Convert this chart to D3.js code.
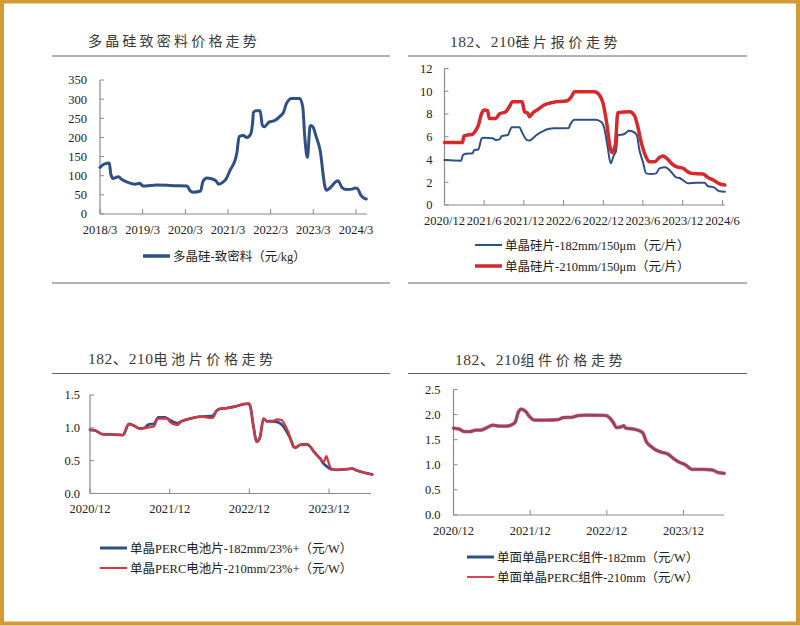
<!DOCTYPE html>
<html><head><meta charset="utf-8">
<script src="https://cdn.jsdelivr.net/npm/d3@7"></script>
<style>
html,body{margin:0;padding:0;background:#fff;}
svg{display:block;}
</style></head>
<body>
<svg id="chart" width="800" height="626"></svg>
<script>
// ---------------- DATA ----------------
const polyTitle = "多晶硅致密料价格走势";
const polyLegend = ["多晶硅-致密料（元/kg）"];
const polyXTicks = ["2018/3","2019/3","2020/3","2021/3","2022/3","2023/3","2024/3"];
const polyYTicks = [0,50,100,150,200,250,300,350];
const polysilicon = [
 ["2018-03-01",122],["2018-04-10",131],["2018-05-20",133],["2018-06-01",105],["2018-06-20",93],
 ["2018-08-05",97],["2018-09-05",90],["2018-10-15",84],["2018-12-25",78],["2019-02-05",80],
 ["2019-03-05",73],["2019-07-01",76],["2019-11-20",74],["2020-03-15",73],["2020-04-10",61],
 ["2020-05-05",57],["2020-07-10",60],["2020-07-28",84],["2020-09-01",94],["2020-10-10",92],
 ["2020-11-20",86],["2020-12-10",78],["2021-01-20",84],["2021-02-12",91],["2021-03-20",115],
 ["2021-05-01",141],["2021-05-15",158],["2021-06-05",203],["2021-07-10",205],["2021-08-10",200],
 ["2021-09-12",209],["2021-09-28",240],["2021-10-05",265],["2021-10-25",270],["2021-12-01",270],
 ["2021-12-20",232],["2022-01-05",228],["2022-02-15",240],["2022-04-10",245],["2022-05-20",255],
 ["2022-06-20",266],["2022-07-15",289],["2022-08-28",302],["2022-11-05",302],["2022-12-01",280],
 ["2022-12-18",202],["2023-01-10",148],["2023-02-01",228],["2023-02-10",231],["2023-03-01",226],
 ["2023-03-28",200],["2023-04-28",168],["2023-06-10",70],["2023-06-22",62],["2023-07-22",68],
 ["2023-09-10",84],["2023-09-28",87],["2023-11-03",69],["2023-12-10",64],["2024-01-30",65],
 ["2024-02-20",68],["2024-03-12",67],["2024-04-10",50],["2024-05-10",41],["2024-05-28",39]
];

const waferTitle = ["182、210","硅片报价走势"];
const waferLegend = ["单晶硅片-182mm/150μm（元/片）","单晶硅片-210mm/150μm（元/片）"];
const waferXTicks = ["2020/12","2021/6","2021/12","2022/6","2022/12","2023/6","2023/12","2024/6"];
const waferYTicks = [0,2,4,6,8,10,12];
const wafer182 = [
 ["2020-12-01",3.95],["2021-02-15",3.9],["2021-02-24",4.4],["2021-03-10",4.5],["2021-04-10",4.55],
 ["2021-04-15",4.8],["2021-05-06",4.9],["2021-05-21",5.86],["2021-06-02",5.92],["2021-07-10",5.86],
 ["2021-07-25",5.72],["2021-08-10",5.77],["2021-08-22",6.06],["2021-09-18",6.15],["2021-10-06",6.83],
 ["2021-11-11",6.83],["2021-11-23",6.37],["2021-12-14",5.72],["2021-12-26",5.66],["2022-01-12",5.87],
 ["2022-01-28",6.15],["2022-02-27",6.5],["2022-03-28",6.71],["2022-04-18",6.75],["2022-05-28",6.75],
 ["2022-06-25",6.77],["2022-07-01",7.03],["2022-07-22",7.5],["2022-10-28",7.5],["2022-11-22",7.3],
 ["2022-12-06",6.7],["2022-12-21",5.1],["2023-01-04",3.66],["2023-01-19",4.4],["2023-01-28",4.7],
 ["2023-02-06",6.15],["2023-03-01",6.2],["2023-03-16",6.35],["2023-03-28",6.53],["2023-04-18",6.44],
 ["2023-05-04",6.15],["2023-05-16",4.83],["2023-06-01",3.8],["2023-06-16",2.78],["2023-07-10",2.73],
 ["2023-08-01",2.78],["2023-08-16",3.22],["2023-09-12",3.31],["2023-10-01",3.08],["2023-11-01",2.43],
 ["2023-11-19",2.35],["2023-12-07",2.11],["2023-12-25",1.92],["2024-02-03",1.96],["2024-03-10",1.96],
 ["2024-03-25",1.67],["2024-04-25",1.52],["2024-05-19",1.2],["2024-06-12",1.17]
];
const wafer210 = [
 ["2020-12-01",5.5],["2021-02-22",5.5],["2021-02-28",6.06],["2021-03-16",6.15],["2021-04-10",6.24],
 ["2021-04-25",6.6],["2021-05-06",7.03],["2021-05-21",8.06],["2021-06-02",8.35],["2021-06-17",8.3],
 ["2021-06-25",7.6],["2021-07-25",7.6],["2021-08-10",8.0],["2021-09-09",8.2],["2021-09-25",8.64],
 ["2021-10-10",9.08],["2021-11-23",9.08],["2021-12-04",8.2],["2021-12-19",8.06],["2021-12-26",7.76],
 ["2022-01-12",8.11],["2022-02-03",8.4],["2022-03-04",8.79],["2022-04-13",9.02],["2022-06-19",9.17],
 ["2022-07-07",9.52],["2022-07-22",9.96],["2022-10-22",9.96],["2022-11-13",9.67],["2022-11-28",9.08],
 ["2022-12-16",7.3],["2023-01-01",5.1],["2023-01-10",4.6],["2023-01-25",5.26],["2023-02-06",8.11],
 ["2023-04-01",8.2],["2023-04-22",7.9],["2023-05-07",7.03],["2023-05-22",5.7],["2023-06-16",4.2],
 ["2023-07-01",3.8],["2023-07-25",3.8],["2023-08-16",4.18],["2023-09-01",4.3],["2023-09-19",4.1],
 ["2023-10-10",3.66],["2023-11-01",3.37],["2023-12-04",3.22],["2023-12-19",2.99],["2024-01-10",2.78],
 ["2024-03-04",2.73],["2024-03-25",2.43],["2024-04-25",2.14],["2024-05-19",1.85],["2024-06-12",1.76]
];

const cellTitle = ["182、210","电池片价格走势"];
const cellLegend = ["单晶PERC电池片-182mm/23%+（元/W）","单晶PERC电池片-210mm/23%+（元/W）"];
const cellXTicks = ["2020/12","2021/12","2022/12","2023/12"];
const cellYTicks = [0,0.5,1.0,1.5];
const cell182 = [
 ["2020-12-01",0.97],["2020-12-24",0.96],["2021-01-25",0.905],["2021-03-01",0.9],["2021-05-01",0.89],
 ["2021-05-28",1.06],["2021-06-16",1.04],["2021-07-16",0.99],["2021-08-10",1.0],["2021-08-25",1.05],
 ["2021-09-20",1.06],["2021-10-10",1.16],["2021-11-10",1.16],["2021-12-01",1.12],["2022-01-04",1.07],
 ["2022-01-25",1.1],["2022-03-04",1.14],["2022-04-19",1.17],["2022-06-16",1.18],["2022-07-04",1.26],
 ["2022-07-19",1.29],["2022-08-19",1.3],["2022-10-04",1.33],["2022-11-04",1.36],["2022-11-28",1.37],
 ["2022-12-06",1.32],["2022-12-19",1.04],["2023-01-04",0.79],["2023-01-19",0.86],["2023-02-04",1.14],
 ["2023-02-19",1.1],["2023-03-19",1.1],["2023-04-06",1.09],["2023-04-28",1.05],["2023-05-22",0.94],
 ["2023-06-13",0.79],["2023-06-22",0.71],["2023-07-01",0.70],["2023-07-22",0.74],["2023-08-22",0.75],
 ["2023-09-07",0.71],["2023-09-22",0.64],["2023-10-22",0.53],["2023-11-07",0.45],["2023-11-22",0.41],
 ["2023-12-10",0.37],["2024-01-07",0.36],["2024-02-22",0.37],["2024-03-16",0.38],["2024-04-07",0.35],
 ["2024-05-07",0.32],["2024-06-16",0.29]
];
const cell210 = [
 ["2020-12-01",0.97],["2020-12-24",0.96],["2021-01-25",0.905],["2021-03-01",0.9],["2021-05-01",0.89],
 ["2021-05-28",1.06],["2021-06-16",1.04],["2021-07-16",0.99],["2021-08-10",1.0],["2021-09-20",1.02],
 ["2021-10-06",1.14],["2021-11-19",1.14],["2021-12-02",1.09],["2022-01-04",1.04],["2022-01-25",1.1],
 ["2022-03-04",1.14],["2022-04-19",1.17],["2022-06-16",1.15],["2022-07-04",1.26],["2022-07-19",1.29],
 ["2022-08-19",1.3],["2022-10-04",1.33],["2022-11-04",1.36],["2022-11-28",1.37],["2022-12-06",1.32],
 ["2022-12-19",1.04],["2023-01-04",0.79],["2023-01-19",0.86],["2023-02-04",1.14],["2023-02-19",1.1],
 ["2023-03-19",1.1],["2023-04-06",1.13],["2023-04-28",1.12],["2023-05-07",1.08],["2023-05-28",0.94],
 ["2023-06-22",0.71],["2023-07-01",0.70],["2023-07-22",0.74],["2023-08-22",0.75],["2023-09-07",0.71],
 ["2023-09-22",0.64],["2023-10-22",0.53],["2023-11-07",0.48],["2023-11-19",0.57],["2023-11-28",0.48],
 ["2023-12-13",0.37],["2024-01-07",0.36],["2024-02-22",0.37],["2024-03-16",0.38],["2024-04-07",0.35],
 ["2024-05-07",0.32],["2024-06-16",0.29]
];

const moduleTitle = ["182、210","组件价格走势"];
const moduleLegend = ["单面单晶PERC组件-182mm（元/W）","单面单晶PERC组件-210mm（元/W）"];
const moduleXTicks = ["2020/12","2021/12","2022/12","2023/12"];
const moduleYTicks = [0,0.5,1.0,1.5,2.0,2.5];
const module182 = [
 ["2020-12-01",1.73],["2020-12-29",1.71],["2021-01-22",1.66],["2021-02-15",1.66],["2021-03-17",1.69],
 ["2021-04-10",1.69],["2021-05-04",1.73],["2021-06-07",1.79],["2021-07-07",1.77],["2021-08-10",1.77],
 ["2021-09-10",1.81],["2021-09-22",1.86],["2021-10-04",2.03],["2021-10-19",2.11],["2021-11-10",2.06],
 ["2021-11-28",1.96],["2021-12-22",1.89],["2022-02-15",1.89],["2022-04-13",1.9],["2022-05-07",1.94],
 ["2022-06-22",1.95],["2022-07-16",1.98],["2022-08-25",1.99],["2022-11-22",1.985],["2022-12-16",1.93],
 ["2023-01-01",1.84],["2023-01-16",1.74],["2023-02-10",1.76],["2023-02-19",1.78],["2023-03-01",1.73],
 ["2023-04-07",1.71],["2023-05-04",1.68],["2023-05-22",1.63],["2023-06-07",1.46],["2023-07-01",1.36],
 ["2023-07-25",1.29],["2023-08-19",1.25],["2023-09-19",1.21],["2023-10-13",1.13],["2023-11-07",1.06],
 ["2023-12-10",1.0],["2024-01-10",0.91],["2024-03-04",0.91],["2024-04-13",0.9],["2024-05-16",0.85],
 ["2024-06-12",0.83]
];
const module210 = [
 ["2020-12-01",1.73],["2020-12-29",1.71],["2021-01-22",1.66],["2021-02-15",1.66],["2021-03-17",1.69],
 ["2021-04-10",1.69],["2021-05-04",1.73],["2021-06-07",1.79],["2021-07-07",1.77],["2021-08-10",1.77],
 ["2021-09-10",1.81],["2021-09-22",1.86],["2021-10-04",2.03],["2021-10-19",2.11],["2021-11-10",2.06],
 ["2021-11-28",1.96],["2021-12-22",1.89],["2022-02-15",1.89],["2022-04-13",1.9],["2022-05-07",1.94],
 ["2022-06-22",1.95],["2022-07-16",1.98],["2022-08-25",1.99],["2022-11-22",1.985],["2022-12-16",1.93],
 ["2023-01-01",1.84],["2023-01-16",1.74],["2023-02-10",1.76],["2023-02-19",1.78],["2023-03-01",1.73],
 ["2023-04-07",1.71],["2023-05-04",1.68],["2023-05-22",1.63],["2023-06-07",1.46],["2023-07-01",1.36],
 ["2023-07-25",1.29],["2023-08-19",1.25],["2023-09-19",1.21],["2023-10-13",1.13],["2023-11-07",1.06],
 ["2023-12-10",1.0],["2024-01-10",0.91],["2024-03-04",0.91],["2024-04-13",0.9],["2024-05-16",0.84],
 ["2024-06-12",0.83]
];

// ---------------- DRAWING ----------------
const FONT = '"Liberation Serif","Noto Sans CJK SC",serif';
const BLUE = "#2f5087", RED = "#d6282d";
const svg = d3.select("#chart");
const parse = d3.timeParse("%Y-%m-%d");
const tickDate = s => { const [y,m] = s.split("/").map(Number); return new Date(y, m-1, 1); };
const fmtY = (ticks) => { const dec = ticks.some(t => !Number.isInteger(t)); return t => dec ? t.toFixed(1) : String(t); };

svg.append("rect").attr("width",800).attr("height",626).attr("fill","#fff");

function drawPanel(c) {
  const g = svg.append("g");
  const x = d3.scaleTime().domain([tickDate(c.xTicks[0]), tickDate(c.xTicks[c.refIdx])]).range([c.x0, c.xRef]);
  const y = d3.scaleLinear().domain([0, c.yTicks[c.yTicks.length-1]]).range([c.y0, c.y1]);

  // title
  const t = g.append("text").attr("x", c.titleX).attr("y", c.titleY)
    .attr("font-family", FONT).attr("fill", "#3a3a3a");
  if (Array.isArray(c.title)) {
    t.append("tspan").attr("font-size", 15.5).attr("letter-spacing", 0.5).text(c.title[0]);
    t.append("tspan").attr("font-size", 14).attr("letter-spacing", 3.6).text(c.title[1]);
  } else {
    t.attr("font-size", 14).attr("letter-spacing", 3.2).text(c.title);
  }
  // rules
  g.append("line").attr("x1", c.ruleX0).attr("x2", c.ruleX1).attr("y1", c.ruleY).attr("y2", c.ruleY)
    .attr("stroke", "#666").attr("stroke-width", 1);
  if (c.bottomRuleY) g.append("line").attr("x1", c.ruleX0).attr("x2", c.ruleX1)
    .attr("y1", c.bottomRuleY).attr("y2", c.bottomRuleY).attr("stroke", "#666").attr("stroke-width", 1);

  // axes
  const axCol = "#8a8a8a";
  g.append("line").attr("x1", c.x0).attr("x2", c.x0).attr("y1", y(0)).attr("y2", y.range()[1])
    .attr("stroke", axCol).attr("stroke-width", 1.2);
  g.append("line").attr("x1", c.x0).attr("x2", c.xEnd).attr("y1", y(0)).attr("y2", y(0))
    .attr("stroke", axCol).attr("stroke-width", 1.2);
  const f = fmtY(c.yTicks);
  c.yTicks.forEach(v => {
    g.append("line").attr("x1", c.x0).attr("x2", c.x0 + 4).attr("y1", y(v)).attr("y2", y(v))
      .attr("stroke", axCol).attr("stroke-width", 1);
    g.append("text").attr("x", c.x0 - c.yLabGap).attr("y", y(v)).attr("dy", "0.35em")
      .attr("text-anchor", "end").attr("font-family", FONT).attr("font-size", 12.5).attr("fill", "#222").text(f(v));
  });
  c.xTicks.forEach(s => {
    const xx = x(tickDate(s));
    g.append("line").attr("x1", xx).attr("x2", xx).attr("y1", y(0)).attr("y2", y(0) - 5)
      .attr("stroke", axCol).attr("stroke-width", 1);
    g.append("text").attr("x", xx).attr("y", y(0) + 19.5).attr("text-anchor", "middle")
      .attr("font-family", FONT).attr("font-size", 12.5).attr("fill", "#222").text(s);
  });

  // series
  const line = d3.line().x(d => x(parse(d[0]))).y(d => y(d[1])).curve(d3.curveMonotoneX);
  c.series.forEach(s => {
    g.append("path").datum(s.data).attr("d", line).attr("fill", "none")
      .attr("stroke", s.color).attr("stroke-width", s.width).attr("stroke-opacity", s.opacity || 1)
      .attr("stroke-linejoin", "round").attr("stroke-linecap", "round");
  });

  // legend
  c.legend.forEach((lab, i) => {
    const ly = c.legY + i * c.legStep;
    const s = c.legStyle[i];
    g.append("line").attr("x1", c.legX).attr("x2", c.legX + 27).attr("y1", ly).attr("y2", ly)
      .attr("stroke", s.color).attr("stroke-width", s.width);
    g.append("text").attr("x", c.legX + 30).attr("y", ly).attr("dy", "0.36em")
      .attr("font-family", FONT).attr("font-size", 12.5)
      .attr("fill", "#222").text(lab);
  });
}

drawPanel({
  title: polyTitle, titleX: 88, titleY: 46, ruleX0: 52, ruleX1: 390, ruleY: 56, bottomRuleY: 283,
  xTicks: polyXTicks, refIdx: 6, x0: 100, xRef: 356, xEnd: 367,
  yTicks: polyYTicks, y0: 214, y1: 80, yLabGap: 13,
  series: [{data: polysilicon, color: BLUE, width: 3}],
  legend: polyLegend, legStyle: [{color: BLUE, width: 3.5}], legX: 143, legY: 256, legStep: 0
});
drawPanel({
  title: waferTitle, titleX: 450, titleY: 47, ruleX0: 408, ruleX1: 747, ruleY: 56, bottomRuleY: 283,
  xTicks: waferXTicks, refIdx: 7, x0: 444.5, xRef: 722.5, xEnd: 725,
  yTicks: waferYTicks, y0: 205, y1: 68.5, yLabGap: 12,
  series: [{data: wafer182, color: BLUE, width: 2}, {data: wafer210, color: RED, width: 3.5}],
  legend: waferLegend, legStyle: [{color: BLUE, width: 2}, {color: RED, width: 3.5}], legX: 475, legY: 245, legStep: 21
});
drawPanel({
  title: cellTitle, titleX: 88, titleY: 364, ruleX0: 52, ruleX1: 390, ruleY: 373.5, bottomRuleY: null,
  xTicks: cellXTicks, refIdx: 3, x0: 90, xRef: 329, xEnd: 371,
  yTicks: cellYTicks, y0: 493.5, y1: 395, yLabGap: 10,
  series: [{data: cell182, color: BLUE, width: 2.8}, {data: cell210, color: "#d9353c", width: 2.2}],
  legend: cellLegend, legStyle: [{color: BLUE, width: 3}, {color: "#d9353c", width: 2}], legX: 100, legY: 548, legStep: 20
});
drawPanel({
  title: moduleTitle, titleX: 455, titleY: 365, ruleX0: 408, ruleX1: 747, ruleY: 373.5, bottomRuleY: null,
  xTicks: moduleXTicks, refIdx: 3, x0: 453.5, xRef: 683.5, xEnd: 724,
  yTicks: moduleYTicks, y0: 515, y1: 389.5, yLabGap: 13,
  series: [{data: module182, color: BLUE, width: 2.8}, {data: module210, color: "#d83a48", width: 3.8, opacity: 0.62}],
  legend: moduleLegend, legStyle: [{color: BLUE, width: 3}, {color: "#d9474f", width: 2}], legX: 467, legY: 557, legStep: 20
});

// frame
svg.append("rect").attr("x", 2).attr("y", 1.5).attr("width", 796).attr("height", 622)
  .attr("fill", "none").attr("stroke", "#d49b34").attr("stroke-width", 4);
</script>
</body></html>
